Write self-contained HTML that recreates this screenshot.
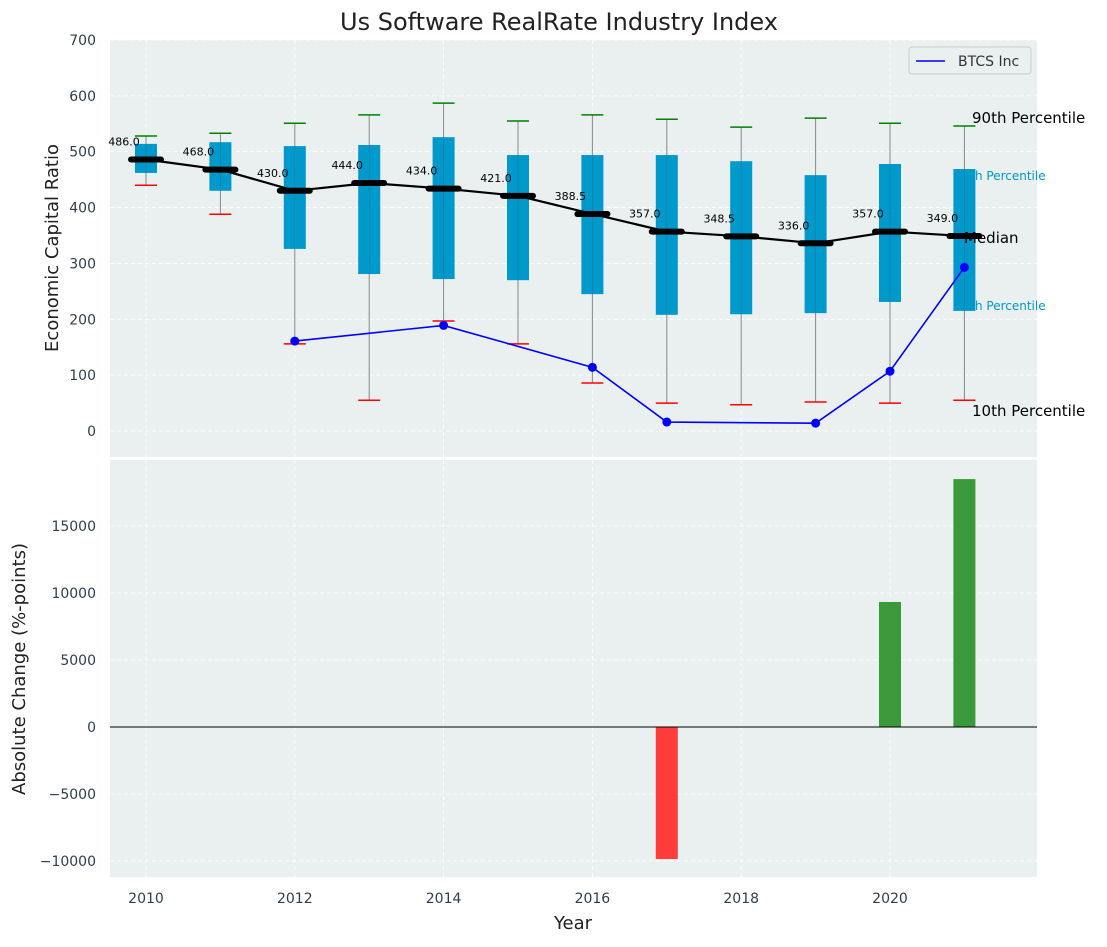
<!DOCTYPE html>
<html><head><meta charset="utf-8"><style>
body{margin:0;background:#fff;font-family:"Liberation Sans","DejaVu Sans",sans-serif;}
svg text{font-family:"DejaVu Sans","Liberation Sans",sans-serif;}
</style></head><body>
<svg id="c" width="1107" height="942" xmlns="http://www.w3.org/2000/svg"></svg>
<script>
const years=[2010,2011,2012,2013,2014,2015,2016,2017,2018,2019,2020,2021];
const q3=[514,517,510,512,526,494,494,494,483,458,478,469];
const q1=[462,430,326,281,272,270,245,208,209,211,231,215];
const p90=[528,533,551,566,587,555,566,558,544,560,551,546];
const p10=[440,388,156,55,197,156,86,50,47,52,50,55];
const medians=[486,468,430,444,434,421,388.5,357,348.5,336,357,349];
const btcsYears=[2012,2014,2016,2017,2019,2020,2021];
const btcsVals=[161,189,114,16,14,107,293];
const changeYears=[2017,2020,2021];
const changeVals=[-9850,9330,18500];
const topTicks=[0,100,200,300,400,500,600,700];
const botTicks=[-10000,-5000,0,5000,10000,15000];
const xTicks=[2010,2012,2014,2016,2018,2020];

const svg=document.getElementById('c');const NS='http://www.w3.org/2000/svg';
function el(t,a,txt){const e=document.createElementNS(NS,t);for(const k in a)e.setAttribute(k,a[k]);if(txt!==undefined)e.textContent=txt;svg.appendChild(e);return e;}
const L=110,R=1037,T1=40,B1=457,T2=460,B2=877;
const X=y=>146+(y-2010)*74.4;
const Y1=v=>431-v*0.5586;
const Y2=v=>727-v*0.0134;

let e;
e=el('text',{x:559,y:30,'font-size':24,'text-anchor':'middle',fill:'#222'},'Us Software RealRate Industry Index');

e=el('rect',{x:L,y:T1,width:R-L,height:B1-T1,fill:'#eaeff0'});

e=el('rect',{x:L,y:T2,width:R-L,height:B2-T2,fill:'#eaeff0'});

xTicks.forEach(t=>{
 el('line',{x1:X(t),x2:X(t),y1:T1,y2:B1,stroke:'#fff','stroke-dasharray':'4,3','stroke-width':0.8});
 el('line',{x1:X(t),x2:X(t),y1:T2,y2:B2,stroke:'#fff','stroke-dasharray':'4,3','stroke-width':0.8});
 e=el('text',{x:X(t),y:903,'font-size':14,'text-anchor':'middle',fill:'#2e3e4e'},t);
 
});
topTicks.forEach(t=>{
 el('line',{x1:L,x2:R,y1:Y1(t),y2:Y1(t),stroke:'#fff','stroke-dasharray':'4,3','stroke-width':0.8});
 e=el('text',{x:96,y:Y1(t)+5,'font-size':14,'text-anchor':'end',fill:'#2e3e4e'},t);
 
});
botTicks.forEach(t=>{
 el('line',{x1:L,x2:R,y1:Y2(t),y2:Y2(t),stroke:'#fff','stroke-dasharray':'4,3','stroke-width':0.8});
 e=el('text',{x:96,y:Y2(t)+5,'font-size':14,'text-anchor':'end',fill:'#2e3e4e'},t<0?'\u2212'+(-t):t);
 
});
const ann=[[955,180,'75th Percentile',12,'#0099cc'],[955,310,'25th Percentile',12,'#0099cc']];
ann.forEach(a=>{e=el('text',{x:a[0],y:a[1],'font-size':a[3],fill:a[4]},a[2]);});
years.forEach((y,i)=>{
 const x=X(y);
 e=el('line',{x1:x,x2:x,y1:Y1(p90[i]),y2:Y1(p10[i]),stroke:'#888','stroke-width':1});
 
 e=el('rect',{x:x-11,y:Y1(q3[i]),width:22,height:Y1(q1[i])-Y1(q3[i]),fill:'#0099cc'});
 
 el('line',{x1:x,x2:x,y1:Y1(q3[i]),y2:Y1(q1[i]),stroke:'#555','stroke-width':0.6,opacity:0.5});
 e=el('line',{x1:x-11,x2:x+11,y1:Y1(p90[i]),y2:Y1(p90[i]),stroke:'green','stroke-width':1.5});
 
 e=el('line',{x1:x-11,x2:x+11,y1:Y1(p10[i]),y2:Y1(p10[i]),stroke:'red','stroke-width':1.5});
 
});
e=el('polyline',{points:years.map((y,i)=>X(y)+','+Y1(medians[i])).join(' '),fill:'none',stroke:'#000','stroke-width':2.2});

years.forEach((y,i)=>{
 e=el('line',{x1:X(y)-15,x2:X(y)+15,y1:Y1(medians[i]),y2:Y1(medians[i]),stroke:'#000','stroke-width':6,'stroke-linecap':'round'});
 
 e=el('text',{x:X(y)-22,y:Y1(medians[i])-14,'font-size':11,'text-anchor':'middle',fill:'#000'},medians[i].toFixed(1));
 
});
e=el('polyline',{points:btcsYears.map((y,i)=>X(y)+','+Y1(btcsVals[i])).join(' '),fill:'none',stroke:'#0000ff','stroke-width':1.6});

btcsYears.forEach((y,i)=>{e=el('circle',{cx:X(y),cy:Y1(btcsVals[i]),r:4.5,fill:'#0000ff'});});
const ann2=[[972,123,'90th Percentile'],[964,243,'Median'],[972,416,'10th Percentile']];
ann2.forEach(a=>{e=el('text',{x:a[0],y:a[1],'font-size':15,fill:'#000'},a[2]);});
e=el('rect',{x:909,y:47,width:122,height:27,fill:'#eaeff0',stroke:'#ccc',rx:3});

el('line',{x1:916,x2:945,y1:61,y2:61,stroke:'#0000ff','stroke-width':1.6});
e=el('text',{x:958,y:66,'font-size':14,fill:'#333'},'BTCS Inc');

changeYears.forEach((y,i)=>{
 const v=changeVals[i];
 e=el('rect',{x:X(y)-11,y:Math.min(Y2(v),Y2(0)),width:22,height:Math.abs(Y2(v)-Y2(0)),fill:v<0?'#ff3b3b':'#3a9a3a'});
 
});
el('line',{x1:L,x2:R,y1:Y2(0),y2:Y2(0),stroke:'#000','stroke-width':1});
e=el('text',{x:0,y:0,'font-size':18,'text-anchor':'middle',fill:'#222',transform:'translate(58,248) rotate(-90)'},'Economic Capital Ratio');

e=el('text',{x:0,y:0,'font-size':18,'text-anchor':'middle',fill:'#222',transform:'translate(25,669) rotate(-90)'},'Absolute Change (%-points)');

e=el('text',{x:573,y:929,'font-size':18,'text-anchor':'middle',fill:'#222'},'Year');

</script>
</body></html>
